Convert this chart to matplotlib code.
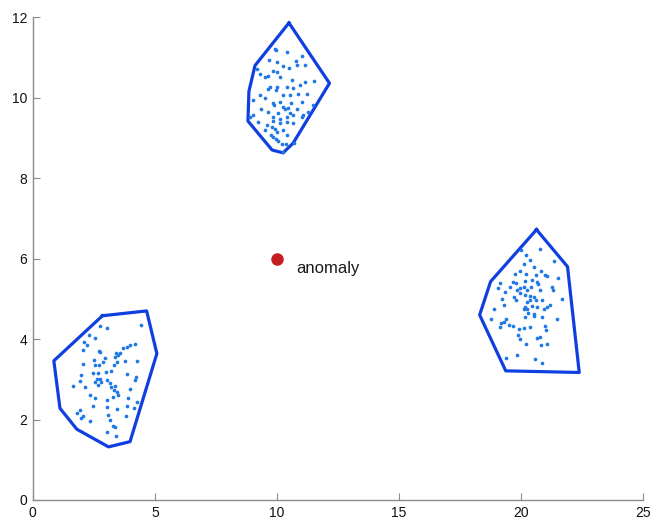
"""
Three clusters with their hull outlines and a single outlying point.
"""

import numpy as np
import matplotlib.pyplot as plt

# --- cluster members (x, y) ---
cluster_top = [
    (9.92, 11.22), (9.96, 11.18), (10.40, 11.14), (11.01, 11.04), (9.69, 10.93),
    (9.99, 10.89), (10.78, 10.91), (9.17, 10.72), (10.23, 10.79), (10.51, 10.74),
    (10.81, 10.81), (11.15, 10.81), (9.30, 10.60), (9.51, 10.52), (9.85, 10.66),
    (10.01, 10.63), (10.12, 10.52), (9.65, 10.53), (10.60, 10.43), (11.52, 10.41),
    (11.15, 10.39), (10.94, 10.31), (10.40, 10.27), (10.67, 10.24), (9.71, 10.27),
    (9.65, 10.21), (9.99, 10.27), (9.96, 10.19), (9.30, 10.06), (9.51, 10.00),
    (10.26, 10.06), (10.53, 10.06), (10.87, 10.10), (11.22, 10.10), (9.03, 9.94),
    (9.85, 9.86), (10.12, 9.90), (10.56, 9.88), (11.01, 9.90), (11.46, 9.83),
    (9.33, 9.73), (9.88, 9.81), (10.23, 9.77), (10.33, 9.71), (10.47, 9.75),
    (10.81, 9.73), (11.28, 9.65), (9.65, 9.65), (10.06, 9.63), (9.03, 9.57),
    (10.53, 9.61), (11.08, 9.58), (8.89, 9.52), (9.85, 9.52), (10.12, 9.48),
    (10.40, 9.52), (10.67, 9.57), (11.01, 9.52), (9.24, 9.40), (9.58, 9.32),
    (9.85, 9.42), (10.12, 9.36), (10.40, 9.40), (10.64, 9.36), (9.78, 9.28),
    (9.92, 9.23), (9.51, 9.19), (9.99, 9.15), (10.26, 9.19), (9.74, 9.07),
    (9.85, 9.03), (10.40, 9.07), (10.06, 8.92), (10.19, 8.84), (10.37, 8.86),
    (10.70, 8.88), (10.26, 8.64), (9.96, 8.97),
]

cluster_left = [
    (2.75, 4.32), (3.05, 4.27), (4.41, 4.35), (2.31, 4.10), (2.54, 4.02),
    (2.09, 3.93), (2.23, 3.85), (2.06, 3.74), (2.72, 3.71), (2.77, 3.67),
    (3.57, 3.66), (3.70, 3.77), (3.87, 3.81), (3.97, 3.85), (4.18, 3.89),
    (3.40, 3.66), (3.36, 3.55), (3.50, 3.60), (2.95, 3.52), (4.25, 3.45),
    (3.77, 3.46), (2.06, 3.38), (2.50, 3.48), (2.88, 3.44), (2.54, 3.35),
    (2.72, 3.35), (3.43, 3.44), (3.32, 3.35), (3.22, 3.21), (2.99, 3.19),
    (2.68, 3.16), (2.47, 3.15), (1.99, 3.11), (3.87, 3.13), (4.22, 3.05),
    (4.18, 2.98), (2.75, 3.02), (2.64, 3.00), (2.54, 2.94), (2.81, 2.94),
    (3.02, 2.98), (3.16, 2.90), (1.93, 2.96), (1.65, 2.83), (2.13, 2.80),
    (2.68, 2.86), (3.22, 2.80), (3.36, 2.83), (3.97, 2.75), (3.32, 2.73),
    (3.46, 2.69), (3.50, 2.61), (3.27, 2.57), (2.34, 2.61), (2.54, 2.53),
    (3.05, 2.48), (3.91, 2.53), (4.25, 2.44), (2.47, 2.34), (3.02, 2.30),
    (3.46, 2.27), (3.87, 2.34), (4.14, 2.28), (1.93, 2.24), (1.79, 2.15),
    (2.04, 2.09), (1.99, 2.05), (2.36, 1.97), (3.09, 2.11), (3.16, 1.99),
    (3.81, 2.09), (3.29, 1.84), (3.36, 1.82), (3.05, 1.69), (3.40, 1.59),
]

cluster_right = [
    (20.78, 6.25), (20.21, 6.09), (19.99, 6.21), (20.37, 5.96), (21.35, 5.95),
    (20.12, 5.86), (20.51, 5.80), (19.75, 5.63), (19.96, 5.70), (20.21, 5.63),
    (20.81, 5.70), (20.61, 5.59), (20.98, 5.59), (21.08, 5.57), (21.49, 5.53),
    (19.14, 5.40), (19.66, 5.42), (19.80, 5.40), (20.16, 5.45), (20.44, 5.48),
    (20.64, 5.43), (20.71, 5.37), (19.07, 5.26), (19.55, 5.29), (19.82, 5.23),
    (19.96, 5.26), (20.10, 5.30), (20.23, 5.22), (20.40, 5.30), (20.78, 5.23),
    (21.26, 5.30), (21.30, 5.22), (19.34, 5.18), (19.71, 5.05), (19.96, 5.15),
    (20.16, 5.09), (20.37, 5.07), (20.53, 5.04), (20.61, 4.97), (20.37, 4.97),
    (20.23, 4.93), (19.21, 4.99), (19.80, 4.97), (20.85, 4.97), (21.67, 5.00),
    (21.19, 4.85), (19.30, 4.85), (20.16, 4.79), (20.26, 4.74), (20.44, 4.82),
    (20.64, 4.79), (21.05, 4.79), (20.94, 4.76), (20.10, 4.74), (20.30, 4.65),
    (20.53, 4.62), (18.89, 4.76), (20.16, 4.56), (20.51, 4.57), (20.85, 4.56),
    (18.78, 4.49), (19.28, 4.43), (19.39, 4.49), (19.17, 4.39), (19.14, 4.29),
    (19.52, 4.35), (19.66, 4.32), (20.98, 4.32), (21.46, 4.49), (19.93, 4.24),
    (20.12, 4.27), (20.37, 4.29), (21.02, 4.22), (19.89, 4.10), (19.96, 4.01),
    (20.64, 4.02), (20.78, 4.04), (20.21, 3.88), (20.81, 3.85), (21.08, 3.89),
    (19.82, 3.60), (19.39, 3.52), (20.57, 3.50), (20.85, 3.41),
]

# --- hull outlines (vertices in drawing order) ---
hull_top = [(10.49, 11.86), (12.15, 10.36), (10.66, 8.87), (10.25, 8.63),
            (9.80, 8.70), (8.81, 9.42), (8.85, 10.16), (9.10, 10.80)]
hull_left = [(2.85, 4.58), (4.66, 4.70), (5.08, 3.64), (3.98, 1.45),
             (3.10, 1.32), (1.80, 1.76), (1.11, 2.28), (0.86, 3.46)]
hull_right = [(20.63, 6.72), (21.90, 5.80), (22.38, 3.17), (19.37, 3.21),
              (18.30, 4.60), (18.75, 5.43)]

anomaly_xy = (10.0, 6.0)
anomaly_label = "anomaly"

x_ticks = [0, 5, 10, 15, 20, 25]
y_ticks = [0, 2, 4, 6, 8, 10, 12]

POINT_COLOR = "#1f78e6"
HULL_COLOR = "#0f3fe0"
AXIS_COLOR = "#8c8c8c"

plt.rcParams["font.family"] = ["Liberation Sans", "DejaVu Sans"]

fig = plt.figure(figsize=(6.57, 5.23), dpi=100)
ax = fig.add_axes([0.050, 0.044, 0.929, 0.923])

for pts in (cluster_top, cluster_left, cluster_right):
    arr = np.array(pts)
    ax.scatter(arr[:, 0], arr[:, 1], s=7, color=POINT_COLOR, linewidths=0, zorder=3)

for hull in (hull_top, hull_left, hull_right):
    h = np.array(hull + hull[:1])
    ax.plot(h[:, 0], h[:, 1], color=HULL_COLOR, lw=2.3,
            solid_joinstyle="round", zorder=2)

ax.plot(*anomaly_xy, "o", color="#c41e1e", markersize=8, zorder=4)
ax.text(anomaly_xy[0] + 0.8, anomaly_xy[1] - 0.24, anomaly_label,
        fontsize=12, color="#1a1a1a", va="center", ha="left")

ax.set_xlim(0, 25)
ax.set_ylim(0, 12)
ax.set_xticks(x_ticks)
ax.set_yticks(y_ticks)

for side in ("top", "right"):
    ax.spines[side].set_visible(False)
for side in ("left", "bottom"):
    ax.spines[side].set_color(AXIS_COLOR)
    ax.spines[side].set_linewidth(1.0)

ax.tick_params(direction="in", length=5, color=AXIS_COLOR, labelsize=10,
               labelcolor="#111111", pad=4)

fig.savefig("out.png", dpi=100)
